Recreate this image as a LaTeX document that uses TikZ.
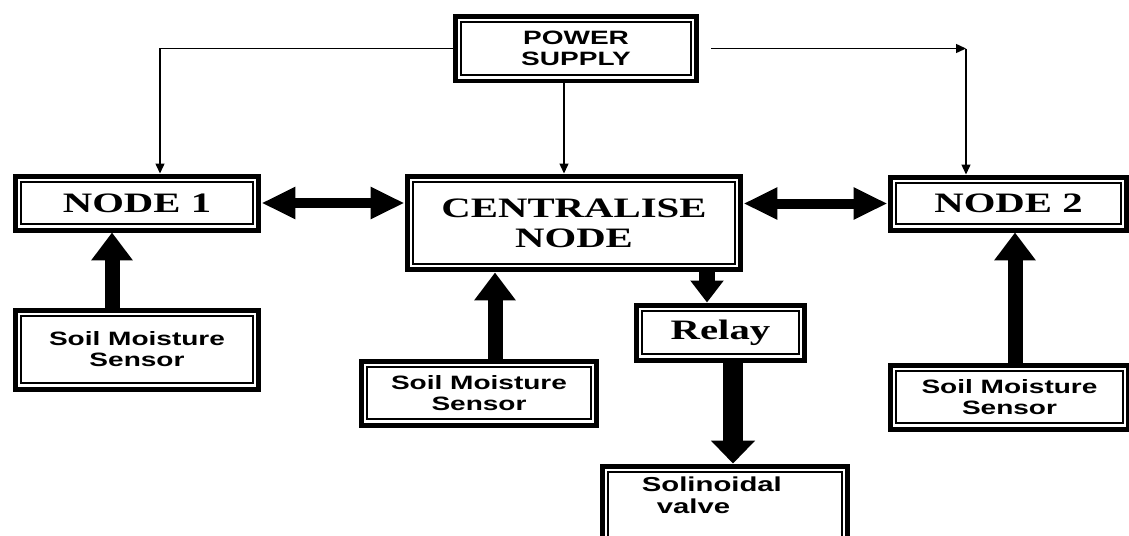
\documentclass[tikz,border=0pt]{standalone}
\usepackage{fontspec}
\usepackage{tikz}
\usetikzlibrary{positioning, calc, arrows.meta}
\newfontfamily\blockserif[FakeStretch=1.45]{Liberation Serif}
\newfontfamily\blocksans[FakeStretch=1.45]{Liberation Sans}

\begin{document}
\begin{tikzpicture}[x=0.02cm,y=-0.02cm,
    block/.style={draw, line width=0.1cm, inner sep=0pt, align=center,
        path picture={\draw[line width=0.7pt]
            ([shift={(0.12cm,0.12cm)}]path picture bounding box.south west) rectangle
            ([shift={(-0.12cm,-0.12cm)}]path picture bounding box.north east);}},
    serifbox/.style={block, font=\blockserif\bfseries\fontsize{16}{17}\selectfont},
    sansbox/.style={block, font=\blocksans\bfseries\fontsize{11}{12}\selectfont},
    pwr/.style={line width=0.8pt, -{Triangle[length=0.2cm,width=0.18cm]}},
    bus/.style={line width=0.2cm, {Triangle[length=0.68cm,width=0.6cm]}-{Triangle[length=0.68cm,width=0.6cm]}},
    feed/.style={line width=0.3cm, -{Triangle[length=0.56cm,width=0.8cm]}}]

    \useasboundingbox (0,0) rectangle (1129,535);

    % Blocks
    \node[sansbox, minimum width=4.84cm, minimum height=1.3cm] (ps) at (576,48.5) {POWER\\SUPPLY};
    \node[serifbox, minimum width=4.88cm, minimum height=1.08cm] (node1) at (137,203) {NODE 1};
    \node[serifbox, minimum width=6.68cm, minimum height=1.88cm] (centre) at (574,223) {CENTRALISE\\NODE};
    \node[serifbox, minimum width=4.74cm, minimum height=1.06cm] (node2) at (1008.5,203.5) {NODE 2};
    \node[serifbox, minimum width=3.38cm, minimum height=1.1cm] (relay) at (720.5,332.5) {Relay};

    % Sensors & valve
    \node[sansbox, minimum width=4.88cm, minimum height=1.58cm] (soil1) at (137,349.5) {Soil Moisture\\Sensor};
    \node[sansbox, minimum width=4.72cm, minimum height=1.28cm] (soil2) at (479,393) {Soil Moisture\\Sensor};
    \node[sansbox, minimum width=4.78cm, minimum height=1.28cm] (soil3) at (1009.5,397) {Soil Moisture\\Sensor};
    \node[block, minimum width=4.92cm, minimum height=2cm] (valve) at (725,516) {};
    \node[anchor=north west, inner sep=0pt, align=left, font=\blocksans\bfseries\fontsize{11.5}{12.5}\selectfont]
        (valvetext) at ([xshift=0.84cm,yshift=-0.26cm]valve.north west) {Solinoidal\\\hspace*{0.3cm}valve};

    % Power lines
    \draw[pwr] (ps.west) -| ([xshift=0.46cm]node1.north);
    \coordinate (rcorner) at (966,48.5);
    \draw[pwr] ([xshift=0.24cm]ps.east) -- (rcorner);
    \draw[pwr] (rcorner) -- (rcorner |- node2.north);
    \draw[pwr] ([xshift=-0.24cm]ps.south) -- ([xshift=-0.24cm]ps.south |- centre.north);

    % Links
    \draw[bus] (node1.east) -- (node1.east -| centre.west);
    \draw[bus] (centre.east |- node2.west) -- (node2.west);

    % Sensor inputs
    \draw[feed] ([xshift=-0.5cm]soil1.north) -- ([xshift=-0.5cm]node1.south);
    \draw[feed] ([xshift=0.32cm]soil2.north) -- ([xshift=0.32cm]soil2.north |- centre.south);
    \draw[feed] ([xshift=0.11cm]soil3.north) -- ([xshift=0.11cm]soil3.north |- node2.south);

    % Relay & valve
    \draw[feed, line width=0.32cm, -{Triangle[length=0.44cm,width=0.64cm]}]
        ([xshift=-0.27cm]relay.north |- centre.south) -- ([xshift=-0.27cm]relay.north);
    \draw[feed, line width=0.4cm, -{Triangle[length=0.46cm,width=0.86cm]}]
        ([xshift=0.25cm]relay.south) -- ([xshift=0.25cm]relay.south |- valve.north);
\end{tikzpicture}
\end{document}
